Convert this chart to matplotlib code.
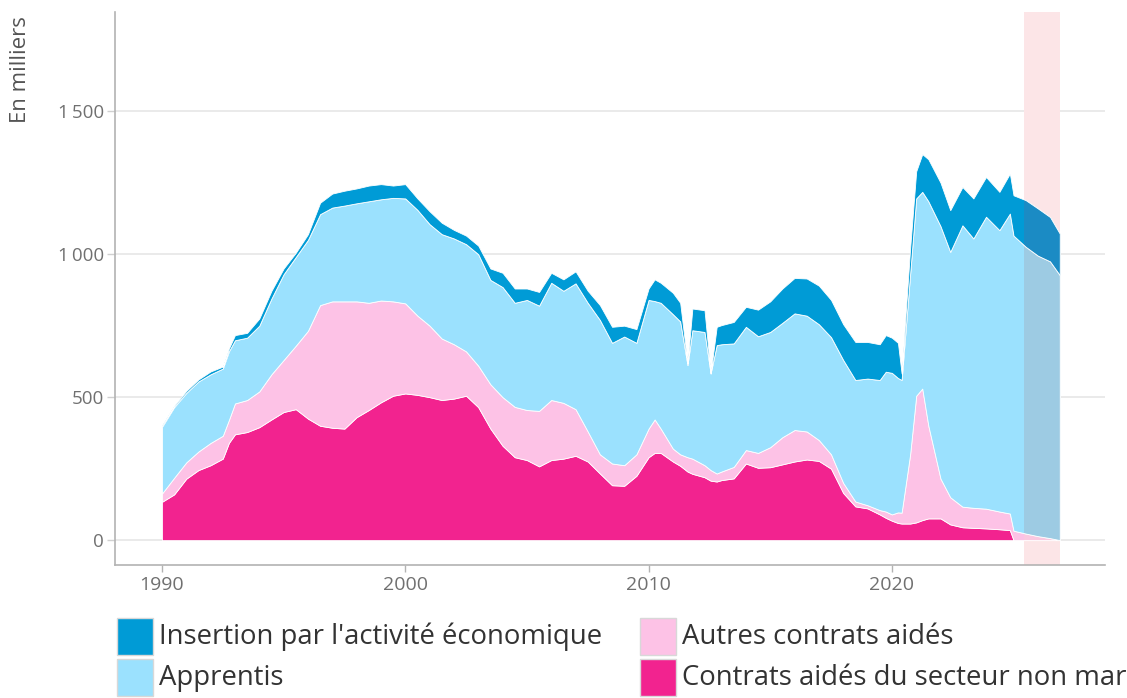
import matplotlib
matplotlib.use("Agg")
import matplotlib.pyplot as plt
from matplotlib.patches import Rectangle

plt.rcParams['font.family'] = ['Open Sans', 'DejaVu Sans']

# ---- data (en milliers) ----
years = [1990.0, 1990.5, 1991.0, 1991.5, 1992.0, 1992.5, 1992.75, 1993.0, 1993.5, 1994.0,
         1994.5, 1995.0, 1995.5, 1996.0, 1996.5, 1997.0, 1997.5, 1998.0, 1998.5, 1999.0,
         1999.5, 2000.0, 2000.5, 2001.0, 2001.5, 2002.0, 2002.5, 2003.0, 2003.5, 2004.0,
         2004.5, 2005.0, 2005.5, 2006.0, 2006.5, 2007.0, 2007.5, 2008.0, 2008.5, 2009.0,
         2009.5, 2010.0, 2010.25, 2010.5, 2011.0, 2011.3, 2011.6, 2011.8, 2012.3, 2012.55,
         2012.8, 2013.0, 2013.5, 2014.0, 2014.5, 2015.0, 2015.5, 2016.0, 2016.5, 2017.0,
         2017.5, 2018.0, 2018.5, 2019.0, 2019.5, 2019.75, 2020.0, 2020.25, 2020.4, 2020.75,
         2021.0, 2021.25, 2021.5, 2022.0, 2022.4, 2022.9, 2023.35, 2023.87, 2024.42, 2024.85,
         2025.0, 2025.5, 2026.0, 2026.5, 2026.9]

non_marchand = [134, 160, 215, 245, 262, 285, 340, 370, 378, 395,
                422, 448, 458, 425, 400, 393, 390, 430, 455, 482,
                505, 513, 508, 500, 490, 495, 505, 465, 390, 330,
                290, 280, 258, 280, 285, 295, 275, 233, 192, 190,
                225, 290, 305, 305, 275, 260, 240, 232, 220, 208,
                205, 210, 216, 268, 253, 255, 265, 275, 282, 277,
                250, 165, 118, 111, 90, 78, 68, 60, 58, 58,
                62, 70, 76, 76, 55, 45, 43, 41, 38, 35,
                0, 0, 0, 0, 0]

autres = [29, 58, 57, 65, 78, 80, 80, 108, 112, 125,
          158, 182, 222, 307, 422, 442, 445, 405, 375, 356,
          330, 315, 277, 250, 215, 190, 155, 145, 155, 170,
          176, 175, 194, 210, 195, 163, 105, 67, 76, 72,
          75, 100, 117, 85, 45, 40, 50, 53, 42, 37,
          28, 30, 40, 47, 52, 70, 95, 110, 98, 73,
          50, 35, 17, 11, 15, 22, 22, 37, 38, 242,
          443, 460, 324, 139, 95, 72, 70, 69, 62, 58,
          33, 23, 14, 7, 0]

apprentis = [233, 247, 243, 245, 240, 235, 240, 221, 218, 230,
             265, 300, 310, 318, 318, 328, 335, 343, 355, 354,
             362, 367, 370, 355, 365, 370, 375, 390, 365, 385,
             364, 385, 368, 410, 392, 440, 450, 470, 422, 450,
             390, 450, 414, 440, 470, 465, 322, 449, 466, 338,
             449, 445, 432, 431, 408, 403, 400, 408, 405, 405,
             410, 430, 425, 443, 455, 489, 495, 470, 464, 630,
             690, 688, 785, 883, 858, 984, 942, 1021, 984, 1049,
             1032, 1003, 981, 968, 927]

insertion = [6, 5, 7, 7, 10, 7, 10, 18, 17, 25,
             27, 20, 15, 20, 40, 49, 52, 52, 55, 53,
             43, 50, 40, 45, 40, 30, 30, 30, 40, 50,
             50, 40, 48, 35, 40, 42, 42, 52, 56, 38,
             48, 40, 76, 70, 75, 65, 6, 76, 76, 0,
             64, 67, 75, 70, 93, 107, 120, 124, 130, 135,
             130, 125, 133, 128, 125, 128, 123, 123, 23, 90,
             95, 132, 147, 152, 146, 134, 140, 139, 134, 140,
             141, 163, 165, 155, 145]

labels = ["Contrats aidés du secteur non marchand", "Autres contrats aidés",
          "Apprentis", "Insertion par l'activité économique"]
colors = ['#f2238f', '#fdc2e6', '#9be1fe', '#009bd6']
forecast_colors = ['#f2238f', '#fbc8e0', '#9dcbe3', '#1b8bc4']
forecast_start, forecast_end = 2025.43, 2026.92

x_ticks = [1990, 2000, 2010, 2020]
y_ticks = [0, 500, 1000, 1500]
y_tick_labels = ["0", "500", "1\u2009000", "1\u2009500"]

W, H = 1127, 698
fig = plt.figure(figsize=(W / 100, H / 100), dpi=100)
ax = fig.add_axes([115 / W, 1 - 565 / H, (1105 - 115) / W, (565 - 12) / H])

series = [non_marchand, autres, apprentis, insertion]
polys = ax.stackplot(years, *series, colors=colors, edgecolor='white',
                     linewidth=0.6, zorder=2)

fpolys = ax.stackplot(years, *series, colors=forecast_colors, edgecolor='white',
                      linewidth=0.6, zorder=3)
clip = Rectangle((forecast_start, -200), forecast_end - forecast_start, 4000,
                 transform=ax.transData)
for p in fpolys:
    p.set_clip_path(clip)

ax.axvspan(forecast_start, forecast_end, color='#fce5e7', zorder=1, lw=0)

ax.set_xlim(1988.07, 2028.76)
ax.set_ylim(-87, 1847)
ax.set_xticks(x_ticks)
ax.set_yticks(y_ticks)
ax.set_yticklabels(y_tick_labels)
ax.yaxis.grid(True, color='#e6e6e6', linewidth=1.2, zorder=0)
ax.set_axisbelow(True)

for s in ['top', 'right']:
    ax.spines[s].set_visible(False)
for s in ['left', 'bottom']:
    ax.spines[s].set_color('#b3b3b3')
    ax.spines[s].set_linewidth(1.2)

ax.tick_params(axis='y', length=6, width=1, color='#d0d0d0', pad=2,
               labelsize=13.5, labelcolor='#707070')
ax.tick_params(axis='x', length=5, width=1, color='#b3b3b3', pad=3,
               labelsize=14, labelcolor='#707070')

fig.text(21 / W, 1 - 70 / H, "En milliers", rotation=90, ha='center', va='center',
         fontsize=16, color='#555555')

# legend (the last label runs past the right edge, as in the reference)
legend_items = [(3, 117, 618), (1, 640, 618), (2, 117, 659), (0, 640, 659)]
for idx, px, py in legend_items:
    fig.add_artist(Rectangle((px / W, 1 - (py + 37) / H), 36 / W, 37 / H,
                             transform=fig.transFigure, facecolor=colors[idx],
                             edgecolor='#d8d8d8', linewidth=1))
    fig.text((px + 42) / W, 1 - (py + 19) / H, labels[idx], ha='left', va='center',
             fontsize=19.8, color='#333333')

fig.savefig("out.png", dpi=100)
